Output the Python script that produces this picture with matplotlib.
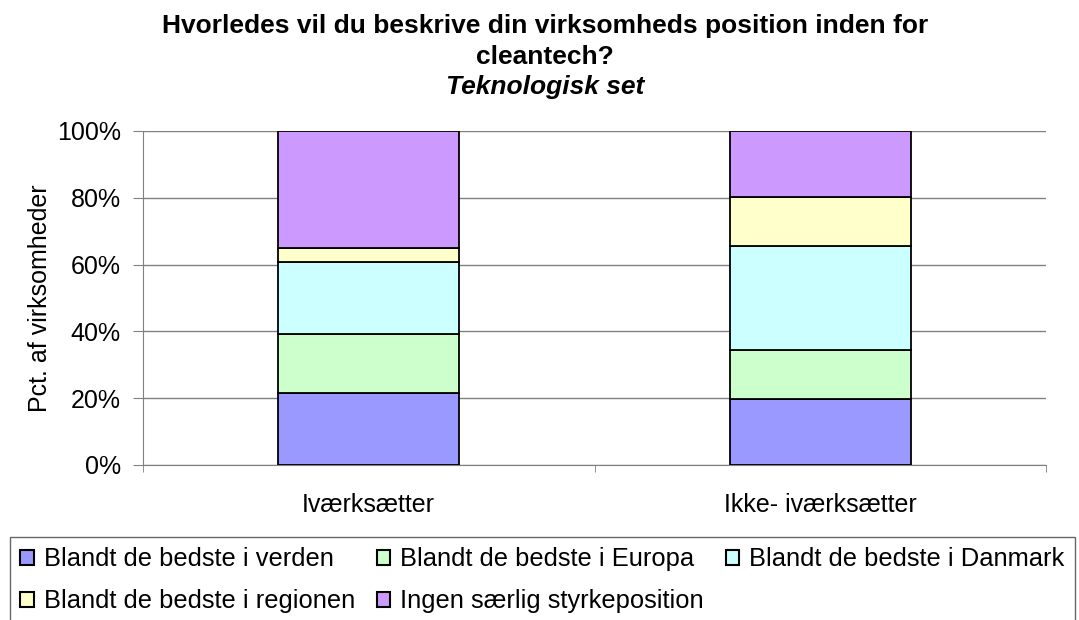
import matplotlib
matplotlib.use("Agg")
import matplotlib.pyplot as plt
import numpy as np

plt.rcParams['font.family'] = ['Liberation Sans', 'DejaVu Sans']

categories = ["Iværksætter", "Ikke- iværksætter"]
series_names = ["Blandt de bedste i verden", "Blandt de bedste i Europa",
                "Blandt de bedste i Danmark", "Blandt de bedste i regionen",
                "Ingen særlig styrkeposition"]
verden = [21.6, 19.9]
europa = [17.6, 14.5]
danmark = [21.6, 31.3]
regionen = [4.2, 14.5]
ingen = [35.0, 19.8]
series_values = [verden, europa, danmark, regionen, ingen]
colors = ["#9999FF", "#CCFFCC", "#CCFFFF", "#FFFFCC", "#CC99FF"]
yticks = [0, 20, 40, 60, 80, 100]
ytick_labels = ["0%", "20%", "40%", "60%", "80%", "100%"]

W, H = 1079, 620
fig = plt.figure(figsize=(W / 100, H / 100), dpi=100)
ax_l, ax_r, ax_t, ax_b = 143, 1046, 131, 465
ax = fig.add_axes([ax_l / W, 1 - ax_b / H, (ax_r - ax_l) / W, (ax_b - ax_t) / H])

FS = 18
x = np.arange(len(categories))
bottom = np.zeros(len(categories))
handles = []
for name, vals, c in zip(series_names, series_values, colors):
    h = ax.bar(x, vals, width=0.40, bottom=bottom, color=c, edgecolor="black",
               linewidth=1.3, label=name, zorder=3)
    handles.append(h)
    bottom += np.array(vals)

ax.set_xlim(-0.5, len(categories) - 0.5)
ax.set_ylim(0, 100)
ax.set_yticks(yticks)
ax.set_yticklabels(ytick_labels, fontsize=FS)
ax.yaxis.grid(True, color="#808080", linewidth=1, zorder=0)
ax.set_xticks(x)
ax.set_xticklabels(categories, fontsize=FS)
ax.tick_params(axis='x', length=0, pad=20)
ax.set_xticks([-0.5, 0.5, 1.5], minor=True)
ax.tick_params(axis='x', which='minor', length=5, color="#808080", direction='out')
ax.tick_params(axis='y', length=7, color="#808080", direction='out', pad=9)
for s in ["top", "right"]:
    ax.spines[s].set_visible(False)
for s in ["left", "bottom"]:
    ax.spines[s].set_color("#808080")
ax.set_ylabel("Pct. af virksomheder", fontsize=FS)
ax.yaxis.set_label_coords((52 - ax_l) / (ax_r - ax_l), 0.5)

cx = 545 / W
fig.text(cx, 1 - 33 / H, "Hvorledes vil du beskrive din virksomheds position inden for",
         ha="center", va="baseline", fontsize=19, fontweight="bold")
fig.text(cx, 1 - 64 / H, "cleantech?", ha="center", va="baseline",
         fontsize=19, fontweight="bold")
fig.text(cx, 1 - 94 / H, "Teknologisk set", ha="center", va="baseline",
         fontsize=19, fontweight="bold", style="italic")

LFS = 18.4
order = [0, 3, 1, 4, 2]
leg = fig.legend([handles[i] for i in order], [series_names[i] for i in order],
                 ncol=3, loc="upper left", bbox_to_anchor=(10 / W, 1 - 537 / H),
                 fontsize=LFS, frameon=True, fancybox=False, edgecolor="#404040",
                 handlelength=0.52, handleheight=0.52, handletextpad=0.4,
                 columnspacing=0.85, borderpad=0.4, labelspacing=0.7,
                 borderaxespad=0)
leg.get_frame().set_linewidth(1)
for p in leg.get_patches():
    p.set_edgecolor("black")
    p.set_linewidth(1.5)

fig.savefig("out.png", dpi=100)
